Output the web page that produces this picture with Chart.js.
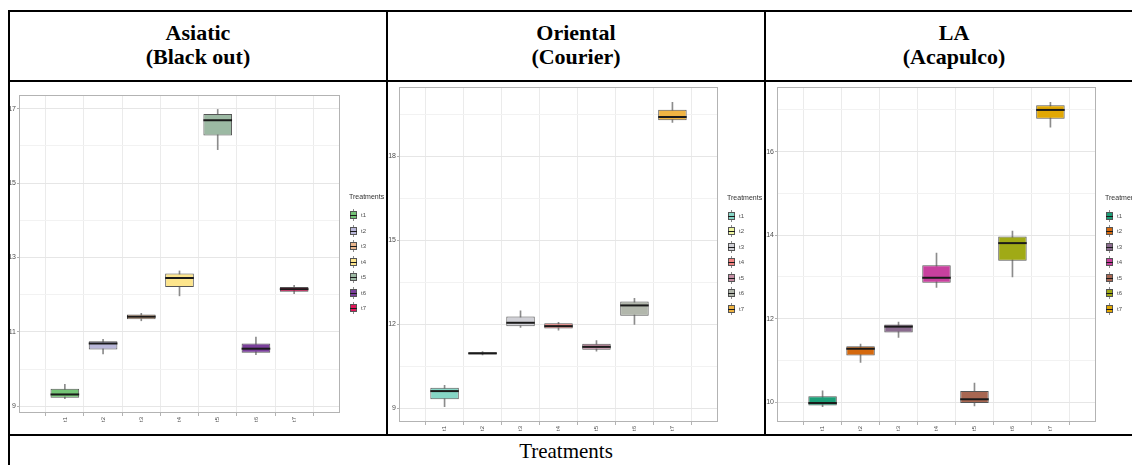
<!DOCTYPE html>
<html>
<head>
<meta charset="utf-8">
<script src="https://cdn.jsdelivr.net/npm/chart.js@4.4.1/dist/chart.umd.min.js"></script>
<style>
  body { margin: 0; width: 1132px; height: 465px; overflow: hidden; background: #fff; position: relative; font-family: "Liberation Serif", "Times New Roman", serif; }
  .line { position: absolute; background: #000; }
  .head { position: absolute; top: 21px; width: 378px; text-align: center; font-weight: bold; font-size: 22px; line-height: 24px; }
  .cell { position: absolute; top: 82px; }
  #foot { position: absolute; left: 416px; width: 300px; top: 438px; text-align: center; font-size: 21px; line-height: 26px; }
</style>
</head>
<body>
<!-- table rules -->
<div class="line" style="left:8px; top:10px; width:1140px; height:2px;"></div>
<div class="line" style="left:8px; top:10px; width:2px; height:460px;"></div>
<div class="line" style="left:8px; top:80px; width:1140px; height:2px;"></div>
<div class="line" style="left:8px; top:434px; width:1140px; height:2px;"></div>
<div class="line" style="left:386px; top:10px; width:2px; height:426px;"></div>
<div class="line" style="left:764px; top:10px; width:2px; height:426px;"></div>

<div class="head" style="left:9px;">Asiatic<br>(Black out)</div>
<div class="head" style="left:387px;">Oriental<br>(Courier)</div>
<div class="head" style="left:765px;">LA<br>(Acapulco)</div>

<div class="cell" style="left:10px;"><canvas id="asiatic" width="376" height="352"></canvas></div>
<div class="cell" style="left:388px;"><canvas id="oriental" width="376" height="352"></canvas></div>
<div class="cell" style="left:766px;"><canvas id="la" width="376" height="352"></canvas></div>

<div id="foot">Treatments</div>

<script>
const treatments = ['t1', 't2', 't3', 't4', 't5', 't6', 't7'];

// Asiatic (Black out)
const asiaticLow    = [9.21, 10.41, 11.30, 11.97, 15.90, 10.39, 12.03];
const asiaticQ1     = [9.23, 10.53, 11.34, 12.21, 16.28, 10.44, 12.08];
const asiaticMedian = [9.32, 10.69, 11.41, 12.45, 16.69, 10.55, 12.15];
const asiaticQ3     = [9.47, 10.75, 11.47, 12.57, 16.86, 10.69, 12.21];
const asiaticHigh   = [9.59, 10.80, 11.50, 12.64, 16.98, 10.86, 12.25];
const asiaticYTicks = [9, 11, 13, 15, 17];
const asiaticColors = ['#74c476', '#b9b7d9', '#eab68c', '#fde58c', '#9cb9a3', '#7a3f9b', '#e0155a'];

// Oriental (Courier)
const orientalLow    = [9.06, 10.91, 11.89, 11.80, 11.05, 12.00, 19.22];
const orientalQ1     = [9.33, 10.93, 11.94, 11.86, 11.10, 12.31, 19.29];
const orientalMedian = [9.62, 10.97, 12.06, 11.94, 11.20, 12.68, 19.41];
const orientalQ3     = [9.74, 11.01, 12.28, 12.04, 11.31, 12.82, 19.67];
const orientalHigh   = [9.83, 11.03, 12.49, 12.08, 11.42, 12.93, 19.93];
const orientalYTicks = [9, 12, 15, 18];
const orientalColors = ['#86d6c6', '#eef5a2', '#d0d0d6', '#f28482', '#c48ea4', '#b2b7ac', '#f0b443'];

// LA (Acapulco)
const laLow    = [9.89, 10.95, 11.55, 12.75, 9.91, 13.00, 16.59];
const laQ1     = [9.92, 11.12, 11.67, 12.86, 9.98, 13.39, 16.79];
const laMedian = [9.98, 11.28, 11.81, 12.98, 10.07, 13.81, 17.00];
const laQ3     = [10.14, 11.34, 11.86, 13.28, 10.27, 13.97, 17.11];
const laHigh   = [10.27, 11.39, 11.92, 13.57, 10.46, 14.10, 17.18];
const laYTicks = [10, 12, 14, 16];
const laColors = ['#1b9e77', '#d5690e', '#8a6b8e', '#c8409e', '#a86752', '#a0aa16', '#e2a804'];

// medians, panel frame and the "Treatments" legend
const boxExtras = {
  id: 'boxExtras',
  afterDatasetsDraw(chart) {
    const { ctx, scales: { x, y } } = chart;
    const boxes = chart.getDatasetMeta(0).data;
    const med = chart.options.plugins.boxExtras.median;
    ctx.save();
    ctx.strokeStyle = '#1a1a1a';
    ctx.lineWidth = 2;
    med.forEach((m, i) => {
      const px = x.getPixelForValue(i + 1);
      const half = boxes[i].width / 2;
      const py = y.getPixelForValue(m);
      ctx.beginPath();
      ctx.moveTo(px - half, py);
      ctx.lineTo(px + half, py);
      ctx.stroke();
    });
    ctx.restore();
  },
  afterDraw(chart) {
    const { ctx, chartArea: a } = chart;
    const colors = chart.options.plugins.boxExtras.colors;
    ctx.save();
    ctx.strokeStyle = '#b3b3b3';
    ctx.lineWidth = 1;
    ctx.strokeRect(Math.round(a.left) + 0.5, Math.round(a.top) + 0.5, Math.round(a.right - a.left) - 1, Math.round(a.bottom - a.top) - 1);

    const lx = a.right + 9;
    const cy = (a.top + a.bottom) / 2;
    ctx.textBaseline = 'middle';
    ctx.fillStyle = '#333';
    ctx.font = '7px "Liberation Sans", Arial, sans-serif';
    ctx.fillText('Treatments', lx, cy - 57);
    ctx.font = '6px "Liberation Sans", Arial, sans-serif';
    treatments.forEach((t, i) => {
      const ky = Math.round(cy - 39 + i * 15.5);
      const kx = Math.round(lx + 1);
      ctx.strokeStyle = '#8c8c8c';
      ctx.beginPath();
      ctx.moveTo(kx + 3.5, ky - 6);
      ctx.lineTo(kx + 3.5, ky + 6);
      ctx.stroke();
      ctx.fillStyle = colors[i];
      ctx.fillRect(kx, ky - 4, 7, 8);
      ctx.strokeStyle = '#555';
      ctx.strokeRect(kx + 0.5, ky - 3.5, 6, 7);
      ctx.strokeStyle = '#1a1a1a';
      ctx.beginPath();
      ctx.moveTo(kx, ky + 0.5);
      ctx.lineTo(kx + 7, ky + 0.5);
      ctx.stroke();
      ctx.fillStyle = '#4d4d4d';
      ctx.fillText(t, kx + 11, ky);
    });
    ctx.restore();
  }
};

function makeChart(id, low, q1, median, q3, high, majors, colors, geo) {
  const lo = Math.min(...low), hi = Math.max(...high);
  const pad = (hi - lo) * 0.05;
  const yMin = lo - pad, yMax = hi + pad;
  const step = majors[1] - majors[0];
  const yTicks = [];
  majors.forEach(v => { yTicks.push(v); });
  [majors[0] - step / 2, ...majors.map(v => v + step / 2)].forEach(v => { if (v > yMin && v < yMax) yTicks.push(v); });
  yTicks.sort((a, b) => a - b);
  const isMajor = v => majors.some(m => Math.abs(m - v) < 1e-6);

  new Chart(document.getElementById(id), {
    type: 'bar',
    data: {
      datasets: [
        {
          data: treatments.map((t, i) => ({ x: i + 1, y: [q1[i], q3[i]] })),
          backgroundColor: colors,
          borderColor: '#555',
          borderWidth: 1,
          borderSkipped: false,
          grouped: false,
          categoryPercentage: 1,
          barPercentage: 0.75
        },
        {
          data: treatments.map((t, i) => ({ x: i + 1, y: [low[i], high[i]] })),
          backgroundColor: '#8c8c8c',
          borderWidth: 0,
          barThickness: 1,
          grouped: false
        }
      ]
    },
    options: {
      responsive: false,
      animation: false,
      events: [],
      layout: { padding: { left: 0, top: geo.top, right: 46, bottom: 0 } },
      plugins: {
        legend: { display: false },
        tooltip: { enabled: false },
        boxExtras: { median: median, colors: colors }
      },
      scales: {
        x: {
          type: 'linear',
          min: 0.4,
          max: 7.6,
          afterBuildTicks: s => { s.ticks = treatments.map((t, i) => ({ value: i + 1 })); },
          afterFit: s => { s.height = geo.xh; },
          ticks: {
            callback: v => treatments[v - 1],
            minRotation: 90,
            maxRotation: 90,
            autoSkip: false,
            padding: 1,
            color: '#4d4d4d',
            font: { family: '"Liberation Sans", Arial, sans-serif', size: 6 }
          },
          grid: { color: '#ebebeb', tickColor: '#b3b3b3', tickLength: 3 },
          border: { display: false }
        },
        y: {
          type: 'linear',
          min: yMin,
          max: yMax,
          afterBuildTicks: s => { s.ticks = yTicks.map(v => ({ value: v })); },
          afterFit: s => { s.width = geo.yw; },
          ticks: {
            callback: v => isMajor(v) ? String(v) : '',
            padding: 1,
            color: '#4d4d4d',
            font: { family: '"Liberation Sans", Arial, sans-serif', size: 7 }
          },
          grid: {
            color: c => (c.tick && isMajor(c.tick.value)) ? '#e6e6e6' : '#f2f2f2',
            tickColor: c => (c.tick && isMajor(c.tick.value)) ? '#b3b3b3' : 'rgba(0,0,0,0)',
            tickLength: 2
          },
          border: { display: false }
        }
      }
    },
    plugins: [boxExtras]
  });
}

makeChart('asiatic', asiaticLow, asiaticQ1, asiaticMedian, asiaticQ3, asiaticHigh, asiaticYTicks, asiaticColors, { top: 13, xh: 21, yw: 9 });
makeChart('oriental', orientalLow, orientalQ1, orientalMedian, orientalQ3, orientalHigh, orientalYTicks, orientalColors, { top: 5, xh: 12, yw: 11 });
makeChart('la', laLow, laQ1, laMedian, laQ3, laHigh, laYTicks, laColors, { top: 5, xh: 12, yw: 11 });
</script>
</body>
</html>
